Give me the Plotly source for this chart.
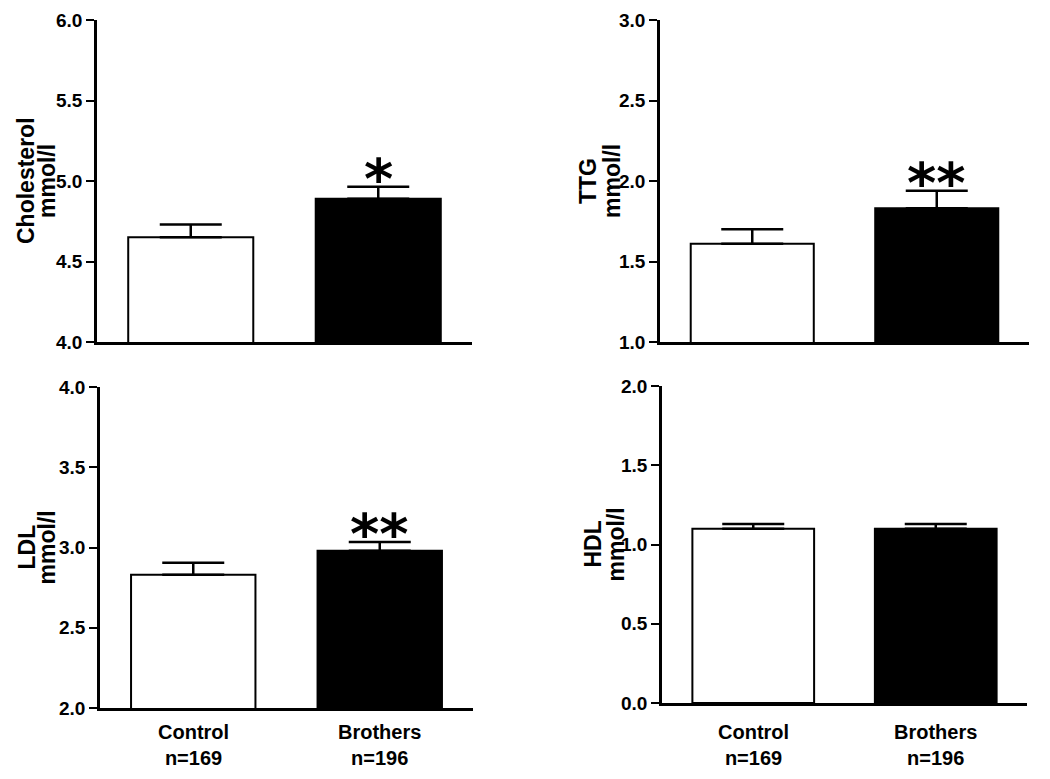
import plotly.graph_objects as go

# ---- data ----
groups = ["Control", "Brothers"]
group_n = ["n=169", "n=196"]
panel_names = ["Cholesterol", "TTG", "LDL", "HDL"]
unit = "mmol/l"

chol_mean = [4.65, 4.89]
chol_sem = [0.08, 0.075]
ttg_mean = [1.61, 1.83]
ttg_sem = [0.09, 0.11]
ldl_mean = [2.83, 2.98]
ldl_sem = [0.075, 0.055]
hdl_mean = [1.10, 1.10]
hdl_sem = [0.03, 0.03]

chol_range = [4.0, 6.0]
ttg_range = [1.0, 3.0]
ldl_range = [2.0, 4.0]
hdl_range = [0.0, 2.0]

chol_ticks = [4.0, 4.5, 5.0, 5.5, 6.0]
ttg_ticks = [1.0, 1.5, 2.0, 2.5, 3.0]
ldl_ticks = [2.0, 2.5, 3.0, 3.5, 4.0]
hdl_ticks = [0.0, 0.5, 1.0, 1.5, 2.0]

significance = ["*", "**", "**", ""]

means = [chol_mean, ttg_mean, ldl_mean, hdl_mean]
sems = [chol_sem, ttg_sem, ldl_sem, hdl_sem]
ranges = [chol_range, ttg_range, ldl_range, hdl_range]
ticks = [chol_ticks, ttg_ticks, ldl_ticks, hdl_ticks]

bar_colors = ["white", "black"]

W, H = 1050, 779
OFF = 8  # page body margin offset
# plot-area pixel boxes in screen coords (left, right, top, bottom)
boxes = [(97, 472, 20, 342), (660, 1029, 20, 342), (100, 473, 387, 708), (662, 1027, 386, 703)]
title_x = [(26, 47), (588, 612), (26, 46), (592, 615)]

FONT = "Liberation Sans, Arial, sans-serif"
STAR_FONT = "DejaVu Sans, sans-serif"


def fx(px):
    return (px - OFF) / W


def fy(py):
    return 1 - (py - OFF) / H


fig = go.Figure()
annotations = []
layout = dict(
    width=W, height=H, autosize=False,
    margin=dict(l=0, r=0, t=0, b=0, autoexpand=False),
    paper_bgcolor="white", plot_bgcolor="white",
    showlegend=False,
    font=dict(family=FONT, color="black"),
)

for i in range(4):
    sfx = "" if i == 0 else str(i + 1)
    xa, ya = "x" + sfx, "y" + sfx
    fig.add_trace(go.Bar(
        x=groups, y=means[i], xaxis=xa, yaxis=ya,
        width=0.667,
        marker=dict(color=bar_colors, line=dict(color="black", width=2)),
        error_y=dict(type="data", symmetric=False, array=sems[i], arrayminus=[0, 0],
                     color="black", thickness=2.5, width=31),
    ))
    l, r, t, b = boxes[i]
    layout["xaxis" + sfx] = dict(
        domain=[fx(l), fx(r)], anchor=ya, range=[-0.5, 1.5], type="category",
        showline=True, linecolor="black", linewidth=2.5, ticks="",
        showticklabels=False, showgrid=False, zeroline=False, fixedrange=True,
        automargin=False,
    )
    layout["yaxis" + sfx] = dict(
        domain=[fy(b), fy(t)], anchor=xa, range=ranges[i],
        tickvals=ticks[i], ticktext=["%.1f" % v for v in ticks[i]],
        showline=True, linecolor="black", linewidth=2.5,
        ticks="outside", ticklen=8, tickwidth=2, tickcolor="black",
        tickfont=dict(family=FONT, size=19, color="black", weight="bold"),
        showgrid=False, zeroline=False, fixedrange=True, automargin=False,
    )
    yc = fy((t + b) / 2)
    for txt, px in zip([panel_names[i], unit], title_x[i]):
        annotations.append(dict(
            text=txt, x=fx(px), y=yc, xref="paper", yref="paper",
            xanchor="center", yanchor="middle", textangle=-90, showarrow=False,
            font=dict(family=FONT, size=23, color="black", weight="bold"),
        ))
    if significance[i]:
        annotations.append(dict(
            text=significance[i], x=groups[1], y=means[i][1] + sems[i][1],
            xref=xa, yref=ya, xanchor="center", yanchor="middle", showarrow=False,
            yshift=8, font=dict(family=STAR_FONT, size=56, color="black", weight="bold"),
        ))
    if i >= 2:
        for g, n in zip(groups, group_n):
            annotations.append(dict(
                text=g + "<br>" + n, x=g, y=fy(745), xref=xa, yref="paper",
                xanchor="center", yanchor="middle", showarrow=False,
                font=dict(family=FONT, size=20, color="black", weight="bold"),
            ))

layout["annotations"] = annotations
fig.update_layout(**layout)
fig.write_html("out.html")
